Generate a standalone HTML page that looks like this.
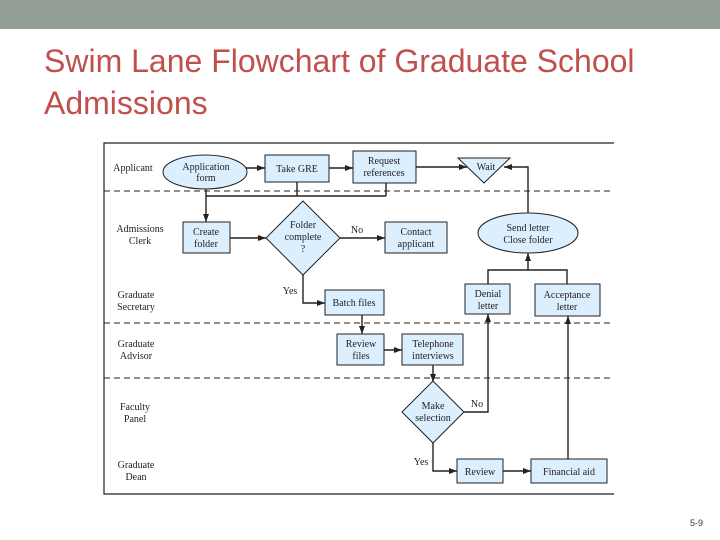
<!DOCTYPE html>
<html><head><meta charset="utf-8"><style>
body{margin:0;width:720px;height:540px;overflow:hidden;background:#fff;position:relative;font-family:"Liberation Sans",sans-serif}
.bar{position:absolute;left:0;top:0;width:720px;height:29px;background:#939e96}
.t{position:absolute;left:44px;top:40px;font-size:32px;line-height:42px;color:#c0504d}
.pn{position:absolute;left:690px;top:518px;font-size:9px;color:#333}
svg{position:absolute;left:0;top:0}
svg text{font-family:"Liberation Serif",serif;font-size:10px;fill:#222}
</style></head><body>
<div class="bar"></div>
<div class="t">Swim Lane Flowchart of Graduate School<br>Admissions</div>
<svg width="720" height="540" viewBox="0 0 720 540">
<defs><marker id="a" markerWidth="8" markerHeight="6" refX="8" refY="3" orient="auto" markerUnits="userSpaceOnUse"><path d="M0,0L8,3L0,6z" fill="#222"/></marker></defs>
<g fill="none" stroke="#222" stroke-width="1.2">
<path d="M614,143H104V494H614"/>
</g>
<g stroke="#222" stroke-width="1" stroke-dasharray="6,4">
<line x1="104" y1="191" x2="614" y2="191"/><line x1="104" y1="323" x2="614" y2="323"/><line x1="104" y1="378" x2="614" y2="378"/>
</g>
<g fill="none" stroke="#222" stroke-width="1.4">
<line x1="246" y1="168" x2="265" y2="168" marker-end="url(#a)"/>
<line x1="329" y1="168" x2="353" y2="168" marker-end="url(#a)"/>
<line x1="416" y1="167" x2="467" y2="167" marker-end="url(#a)"/>
<path d="M528,213V167H504" marker-end="url(#a)"/>
<path d="M297,182V196M386,183V196M206,196H386"/>
<path d="M206,188V222" marker-end="url(#a)"/>
<line x1="230" y1="238" x2="266" y2="238" marker-end="url(#a)"/>
<line x1="340" y1="238" x2="385" y2="238" marker-end="url(#a)"/>
<path d="M303,275V303H325" marker-end="url(#a)"/>
<line x1="362" y1="315" x2="362" y2="334" marker-end="url(#a)"/>
<path d="M488,284V270H567V284"/>
<line x1="528" y1="270" x2="528" y2="253" marker-end="url(#a)"/>
<line x1="384" y1="350" x2="402" y2="350" marker-end="url(#a)"/>
<line x1="433" y1="365" x2="433" y2="382" marker-end="url(#a)"/>
<path d="M464,412H488V314" marker-end="url(#a)"/>
<path d="M433,443V471H457" marker-end="url(#a)"/>
<line x1="503" y1="471" x2="531" y2="471" marker-end="url(#a)"/>
<line x1="568" y1="459" x2="568" y2="316" marker-end="url(#a)"/>
</g>
<g fill="#dcefff" stroke="#222" stroke-width="1">
<ellipse cx="205" cy="172" rx="42" ry="17"/>
<rect x="265" y="155" width="64" height="27"/>
<rect x="353" y="151" width="63" height="32"/>
<path d="M458,158H510L484,183z"/>
<rect x="183" y="222" width="47" height="31"/>
<path d="M303,201L340,238L303,275L266,238z"/>
<rect x="385" y="222" width="62" height="31"/>
<ellipse cx="528" cy="233" rx="50" ry="20"/>
<rect x="325" y="290" width="59" height="25"/>
<rect x="465" y="284" width="45" height="30"/>
<rect x="535" y="284" width="65" height="32"/>
<rect x="337" y="334" width="47" height="31"/>
<rect x="402" y="334" width="61" height="31"/>
<path d="M433,381L464,412L433,443L402,412z"/>
<rect x="457" y="459" width="46" height="24"/>
<rect x="531" y="459" width="76" height="24"/>
</g>
<g text-anchor="middle">
<text x="133" y="171">Applicant</text>
<text x="140" y="232">Admissions</text><text x="140" y="244">Clerk</text>
<text x="136" y="298">Graduate</text><text x="136" y="310">Secretary</text>
<text x="136" y="347">Graduate</text><text x="136" y="359">Advisor</text>
<text x="135" y="410">Faculty</text><text x="135" y="422">Panel</text>
<text x="136" y="468">Graduate</text><text x="136" y="480">Dean</text>
<text x="206" y="170">Application</text><text x="206" y="181">form</text>
<text x="297" y="172">Take GRE</text>
<text x="384" y="164">Request</text><text x="384" y="176">references</text>
<text x="486" y="170">Wait</text>
<text x="206" y="235">Create</text><text x="206" y="247">folder</text>
<text x="303" y="228">Folder</text><text x="303" y="240">complete</text><text x="303" y="252">?</text>
<text x="357" y="233">No</text>
<text x="416" y="235">Contact</text><text x="416" y="247">applicant</text>
<text x="528" y="231">Send letter</text><text x="528" y="243">Close folder</text>
<text x="290" y="294">Yes</text>
<text x="354" y="306">Batch files</text>
<text x="488" y="297">Denial</text><text x="488" y="309">letter</text>
<text x="567" y="298">Acceptance</text><text x="567" y="310">letter</text>
<text x="361" y="347">Review</text><text x="361" y="359">files</text>
<text x="433" y="347">Telephone</text><text x="433" y="359">interviews</text>
<text x="433" y="409">Make</text><text x="433" y="421">selection</text>
<text x="477" y="407">No</text>
<text x="421" y="465">Yes</text>
<text x="480" y="475">Review</text>
<text x="569" y="475">Financial aid</text>
</g>
</svg>
<div class="pn">5-9</div>
</body></html>
